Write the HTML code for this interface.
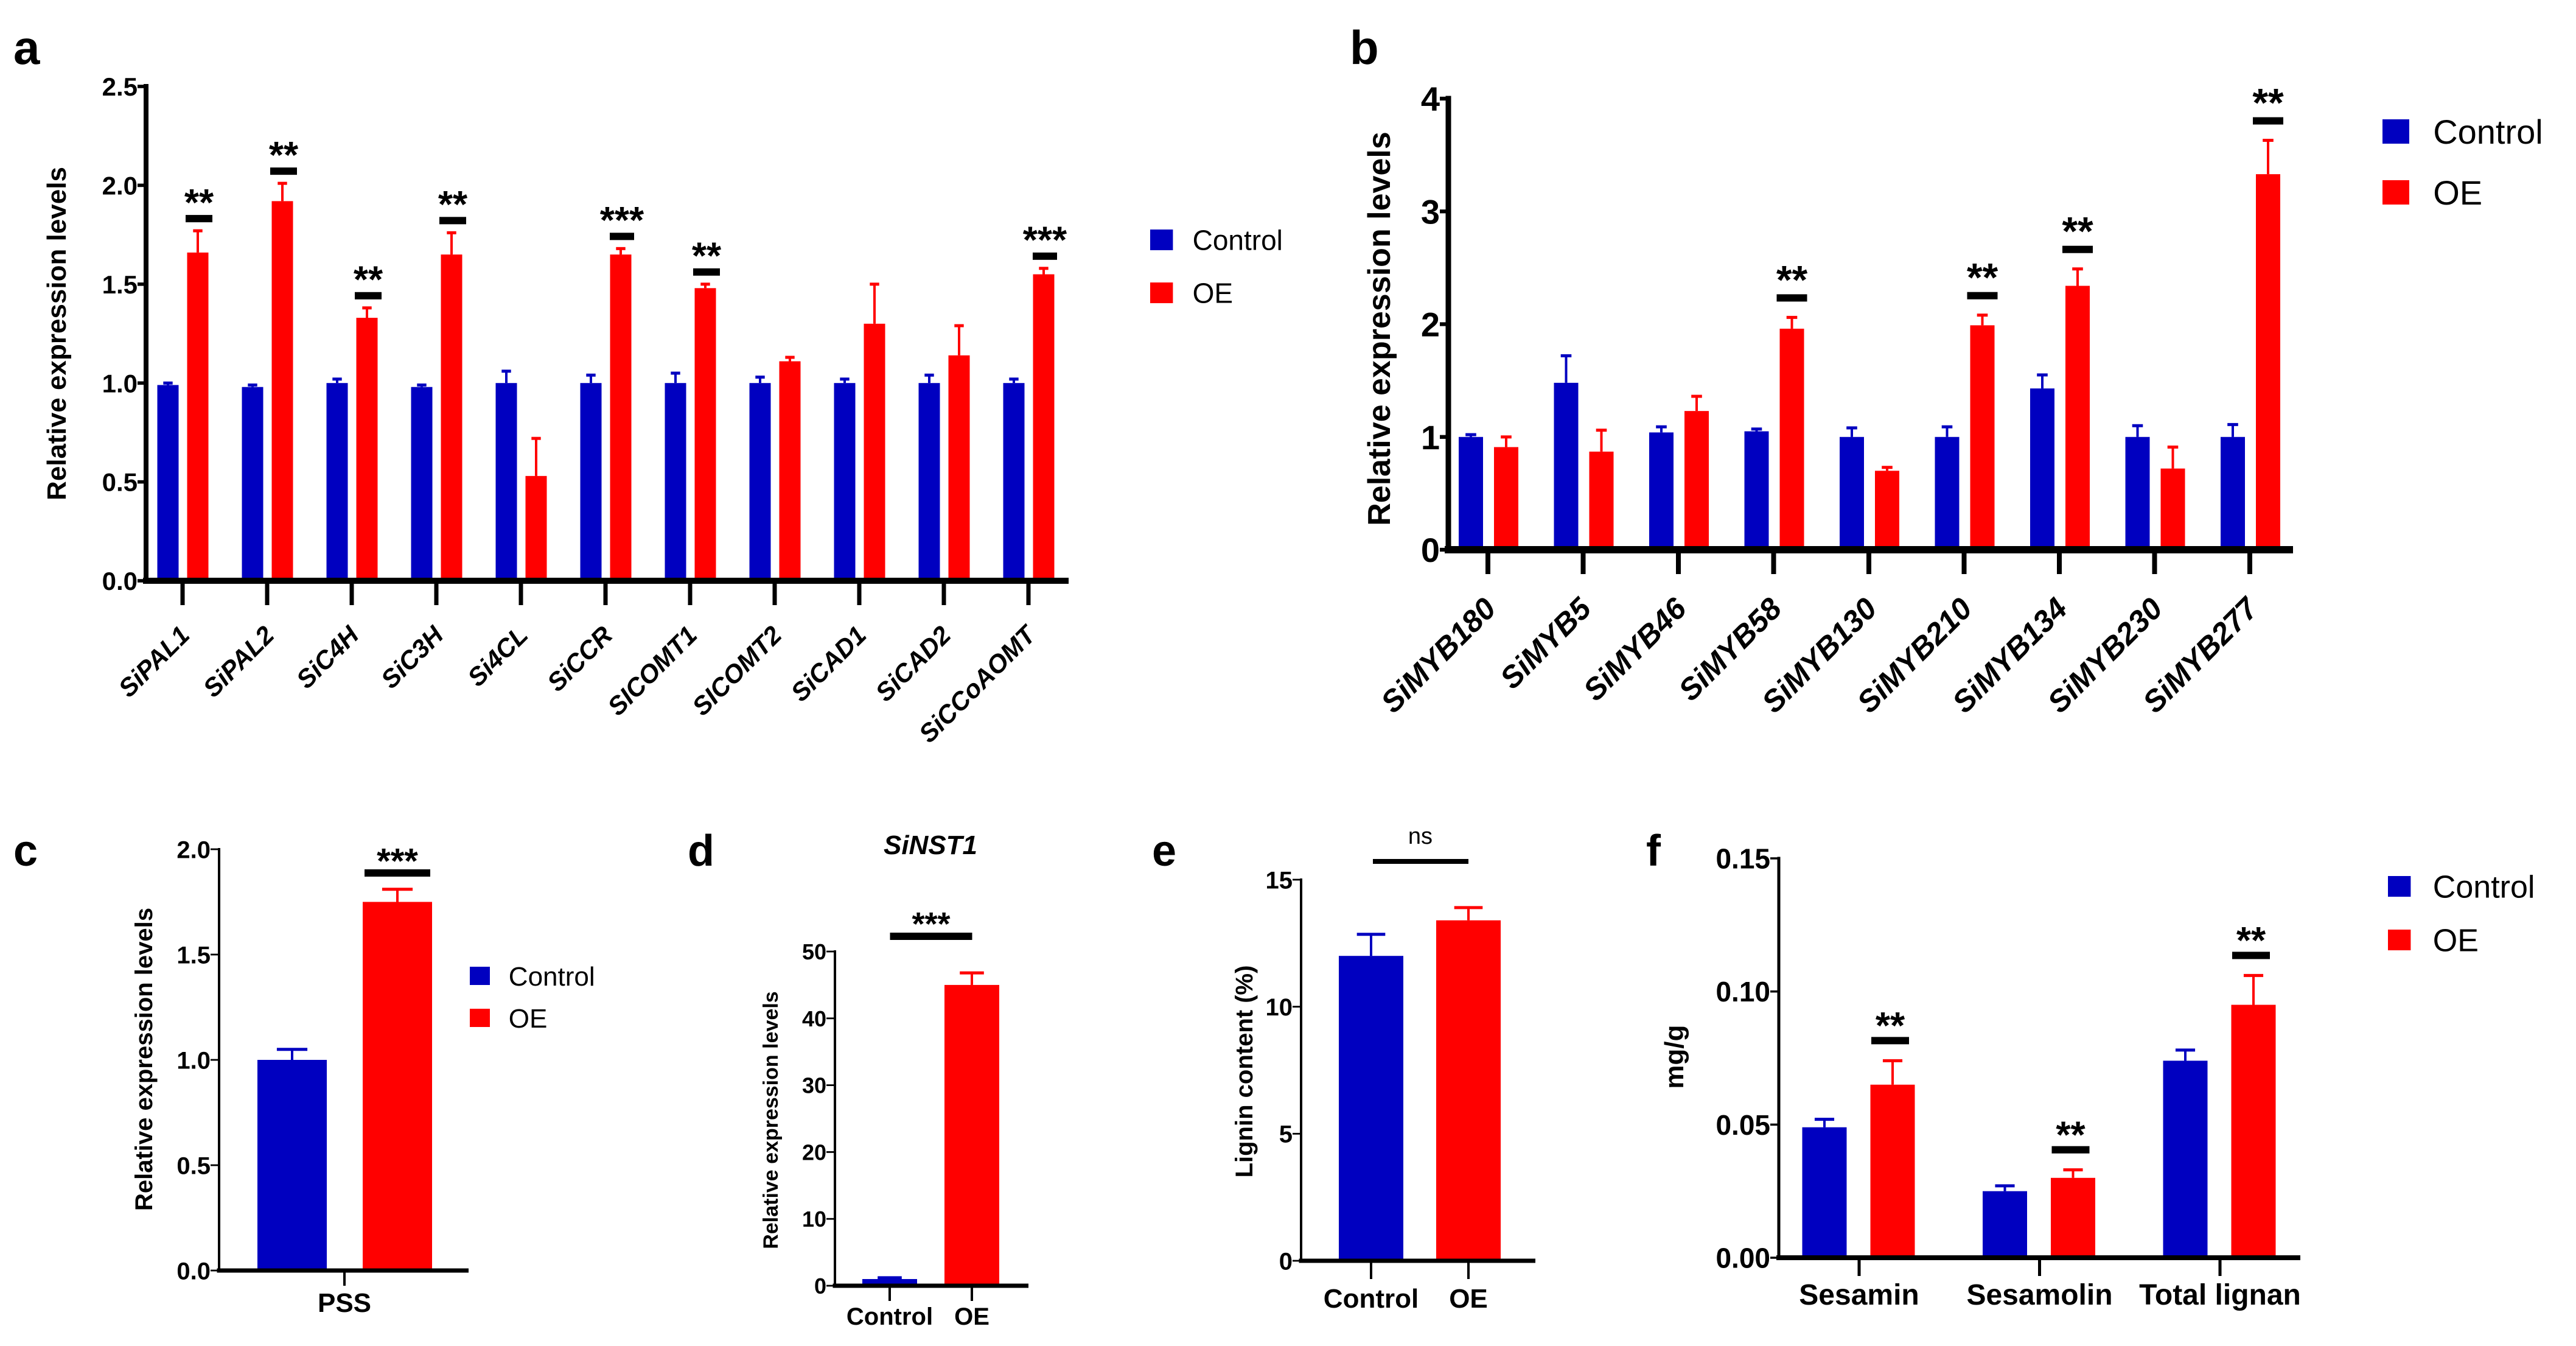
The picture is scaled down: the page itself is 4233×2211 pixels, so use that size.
<!DOCTYPE html>
<html><head><meta charset="utf-8">
<style>
html,body{margin:0;padding:0;background:#fff;}
svg{display:block;}
text{font-family:"Liberation Sans Narrow","Liberation Sans",sans-serif;}
.bold{font-family:"Liberation Sans",sans-serif;font-weight:bold;}
</style></head>
<body>
<svg id="fig" width="4233" height="2211" viewBox="0 0 4233 2211" xmlns="http://www.w3.org/2000/svg"></svg>
<script>
// ---------- data ----------
const aCats = ["SiPAL1","SiPAL2","SiC4H","SiC3H","Si4CL","SiCCR","SICOMT1","SICOMT2","SiCAD1","SiCAD2","SiCCoAOMT"];
const aCtrl = [0.99,0.98,1.0,0.98,1.0,1.0,1.0,1.0,1.0,1.0,1.0];
const aCtrlErr = [0.01,0.01,0.02,0.01,0.06,0.04,0.05,0.03,0.02,0.04,0.02];
const aOE = [1.66,1.92,1.33,1.65,0.53,1.65,1.48,1.11,1.30,1.14,1.55];
const aOEErr = [0.11,0.09,0.05,0.11,0.19,0.03,0.02,0.02,0.20,0.15,0.03];
const aSig = ["**","**","**","**","","***","**","","","","***"];
const aTicks = ["0.0","0.5","1.0","1.5","2.0","2.5"];

const bCats = ["SiMYB180","SiMYB5","SiMYB46","SiMYB58","SiMYB130","SiMYB210","SiMYB134","SiMYB230","SiMYB277"];
const bCtrl = [1.0,1.48,1.04,1.05,1.0,1.0,1.43,1.0,1.0];
const bCtrlErr = [0.02,0.24,0.05,0.02,0.08,0.09,0.12,0.10,0.11];
const bOE = [0.91,0.87,1.23,1.96,0.70,1.99,2.34,0.72,3.33];
const bOEErr = [0.09,0.19,0.13,0.10,0.03,0.09,0.15,0.19,0.30];
const bSig = ["","","","**","","**","**","","**"];
const bTicks = ["0","1","2","3","4"];

const cCats = ["PSS"];
const cCtrl = [1.0]; const cCtrlErr = [0.05];
const cOE = [1.75]; const cOEErr = [0.06];
const cTicks = ["0.0","0.5","1.0","1.5","2.0"];

const dCats = ["Control","OE"];
const dVals = [1.0,45.0]; const dErr = [0.2,1.8];
const dTicks = ["0","10","20","30","40","50"];

const eCats = ["Control","OE"];
const eVals = [12.0,13.4]; const eErr = [0.85,0.5];
const eTicks = ["0","5","10","15"];

const fCats = ["Sesamin","Sesamolin","Total lignan"];
const fCtrl = [0.049,0.025,0.074]; const fCtrlErr = [0.003,0.002,0.004];
const fOE = [0.065,0.030,0.095]; const fOEErr = [0.009,0.003,0.011];
const fSig = ["**","**","**"];
const fTicks = ["0.00","0.05","0.10","0.15"];

const BLUE="#0000c0", RED="#ff0000";
const NS="http://www.w3.org/2000/svg";
const svg=document.getElementById('fig');

function mk(tag, attrs, parent){
  const e=document.createElementNS(NS,tag);
  for(const k in attrs) e.setAttribute(k, attrs[k]);
  (parent||svg).appendChild(e);
  return e;
}
function txt(parent, s, x, y, size, opts){
  opts=opts||{};
  const t=mk('text',{x:x,y:y,'font-size':size,'text-anchor':opts.anchor||'start',fill:'#000'},parent);
  if(opts.cls) t.setAttribute('class',opts.cls);
  if(opts.italic) t.setAttribute('font-style','italic');
  if(opts.weight) t.setAttribute('font-weight',opts.weight);
  if(opts.rot!==undefined) t.setAttribute('transform','rotate('+opts.rot+' '+x+' '+y+')');
  t.textContent=s;
  return t;
}
function panel(name){
  const g=mk('g',{});
  
  
  return g;
}
function yAxis(g, ax, y0, y1, ticks, maxV, size, lw, name){
  const line=mk('line',{x1:ax,y1:y1-lw/2,x2:ax,y2:y0,stroke:'#000','stroke-width':lw},g);
  
  
  ticks.forEach((t,i)=>{
    const v=parseFloat(t);
    const y=y0-(y0-y1)*v/maxV;
    mk('line',{x1:ax-14,y1:y,x2:ax,y2:y,stroke:'#000','stroke-width':lw*0.7},g);
    const lab=txt(g,t,ax-14,y+size*0.36,size,{anchor:'end',weight:'bold'});
    
    
  });
}
function xAxis(g, ax, x2, y0, lw, name){
  const line=mk('line',{x1:ax-lw/2,y1:y0,x2:x2,y2:y0,stroke:'#000','stroke-width':lw},g);
  
  
}
function barErr(g, cx, w, y0, yv, yerr, color, lw, name){
  const r=mk('rect',{x:cx-w/2,y:Math.min(yv,y0),width:w,height:Math.abs(y0-yv),fill:color},g);
  
  
  mk('line',{x1:cx,y1:yv,x2:cx,y2:yerr,stroke:color,'stroke-width':lw},g);
  mk('line',{x1:cx-w*0.22,y1:yerr,x2:cx+w*0.22,y2:yerr,stroke:color,'stroke-width':lw+1},g);
}
function sig(g, cx, y, barW, s, size, name, gap){
  if(!s) return;
  gap=gap||42;
  const b=mk('rect',{x:cx-barW/2,y:y-6,width:barW,height:12,fill:'#000'},g);
  
  
  const t=txt(g,s,cx,y-gap+size*0.56,size,{anchor:'middle',cls:'bold'});
  
  
}
function legend(g, x, y1, y2, sq, size, name){
  const items=[["Control",BLUE,y1],["OE",RED,y2]];
  items.forEach(it=>{
    const r=mk('rect',{x:x,y:it[2]-sq/2,width:sq*1.1,height:sq,fill:it[1]},g);
    
    
    const t=txt(g,it[0],x+sq*1.1+size*0.7,it[2]+size*0.36,size);
    
    
  });
}
function letter(g, s, x, y, size, name){
  const t=txt(g,s,x,y,size,{cls:'bold'});
  
  
}

// ---------- panel a ----------
(function(){
  const g=panel('panel-a');
  const ax=240, y0=954, y1=142, maxV=2.5, x0=300, step=139;
  const sc=v=>y0-(y0-y1)*v/maxV;
  letter(g,'a',22,105,78,'panel-a-letter');
  aCats.forEach((c,i)=>{
    const cx=x0+i*step;
    barErr(g,cx-24,35,y0,sc(aCtrl[i]),sc(aCtrl[i]+aCtrlErr[i]),BLUE,4,'bar-a-control-'+c);
    barErr(g,cx+25,35,y0,sc(aOE[i]),sc(aOE[i]+aOEErr[i]),RED,4,'bar-a-oe-'+c);
    sig(g,cx+27,sc(aOE[i]+aOEErr[i])-20,aSig[i].length>2?40:44,aSig[i],62,'a-'+c,40);
    mk('line',{x1:cx,y1:y0,x2:cx,y2:y0+40,stroke:'#000','stroke-width':7},g);
    const t=txt(g,c,cx+14,y0+92,42,{anchor:'end',cls:'bold',italic:true,rot:-45});
    
    
  });
  xAxis(g,ax,1756,y0,10,'a');
  yAxis(g,ax,y0,y1,aTicks,maxV,42,8,'a');
  const yt=txt(g,'Relative expression levels',108,548,44,{anchor:'middle',cls:'bold',rot:-90});
  
  
  legend(g,1890,394,481,34,46,'a');
})();

// ---------- panel b ----------
(function(){
  const g=panel('panel-b');
  const ax=2380, y0=903, y1=162, maxV=4, x0=2445, step=156.5;
  const sc=v=>y0-(y0-y1)*v/maxV;
  letter(g,'b',2218,105,78,'panel-b-letter');
  bCats.forEach((c,i)=>{
    const cx=x0+i*step;
    barErr(g,cx-28,40,y0,sc(bCtrl[i]),sc(bCtrl[i]+bCtrlErr[i]),BLUE,4,'bar-b-control-'+c);
    barErr(g,cx+30,40,y0,sc(bOE[i]),sc(bOE[i]+bOEErr[i]),RED,4,'bar-b-oe-'+c);
    sig(g,cx+30,sc(bOE[i]+bOEErr[i])-32,50,bSig[i],66,'b-'+c,44);
    mk('line',{x1:cx,y1:y0,x2:cx,y2:y0+40,stroke:'#000','stroke-width':8},g);
    const t=txt(g,c,cx+16,y0+100,50,{anchor:'end',cls:'bold',italic:true,rot:-45});
    
    
  });
  xAxis(g,ax,3768,y0,12,'b');
  yAxis(g,ax,y0,y1,bTicks,maxV,56,9,'b');
  const yt=txt(g,'Relative expression levels',2284,540,52,{anchor:'middle',cls:'bold',rot:-90});
  
  
  legend(g,3915,216,316,40,56,'b');
})();

// ---------- panel c ----------
(function(){
  const g=panel('panel-c');
  const ax=360, y0=2087, y1=1395, maxV=2.0;
  const sc=v=>y0-(y0-y1)*v/maxV;
  letter(g,'c',22,1422,72,'panel-c-letter');
  const cx=566;
  barErr(g,480,114,y0,sc(cCtrl[0]),sc(cCtrl[0]+cCtrlErr[0]),BLUE,4,'bar-c-control');
  barErr(g,653,114,y0,sc(cOE[0]),sc(cOE[0]+cOEErr[0]),RED,4,'bar-c-oe');
  sig(g,653,1434,108,'***',58,'c',32);
  mk('line',{x1:cx,y1:y0,x2:cx,y2:y0+25,stroke:'#000','stroke-width':4},g);
  const t=txt(g,cCats[0],cx,2155,44,{anchor:'middle',weight:'bold'});
  
  
  xAxis(g,ax,770,y0,7,'c');
  yAxis(g,ax,y0,y1,cTicks,maxV,40,4,'c');
  const yt=txt(g,'Relative expression levels',250,1740,40,{anchor:'middle',cls:'bold',rot:-90});
  
  
  legend(g,772,1603,1672,30,44,'c');
})();

// ---------- panel d ----------
(function(){
  const g=panel('panel-d');
  const ax=1372, y0=2112, y1=1563, maxV=50;
  const sc=v=>y0-(y0-y1)*v/maxV;
  letter(g,'d',1130,1422,72,'panel-d-letter');
  const xs=[1462,1597], cols=[BLUE,RED];
  dCats.forEach((c,i)=>{
    const cx=xs[i];
    barErr(g,cx,90,y0,sc(dVals[i]),sc(dVals[i]+dErr[i]),cols[i],4,'bar-d-'+c);
    mk('line',{x1:cx,y1:y0,x2:cx,y2:y0+25,stroke:'#000','stroke-width':4},g);
    const t=txt(g,c,cx,2176,40,{anchor:'middle',weight:'bold'});
    
    
  });
  sig(g,1530,1538,135,'***',54,'d',32);
  xAxis(g,ax,1690,y0,7,'d');
  yAxis(g,ax,y0,y1,dTicks,maxV,36,4,'d');
  const ttl=txt(g,'SiNST1',1529,1403,44,{anchor:'middle',cls:'bold',italic:true});
  
  
  const yt=txt(g,'Relative expression levels',1278,1840,34,{anchor:'middle',cls:'bold',rot:-90});
  
  
})();

// ---------- panel e ----------
(function(){
  const g=panel('panel-e');
  const ax=2138, y0=2071, y1=1445, maxV=15;
  const sc=v=>y0-(y0-y1)*v/maxV;
  letter(g,'e',1893,1422,72,'panel-e-letter');
  const xs=[2253,2413], cols=[BLUE,RED];
  eCats.forEach((c,i)=>{
    const cx=xs[i];
    barErr(g,cx,106,y0,sc(eVals[i]),sc(eVals[i]+eErr[i]),cols[i],4,'bar-e-'+c);
    mk('line',{x1:cx,y1:y0,x2:cx,y2:y0+30,stroke:'#000','stroke-width':4},g);
    const t=txt(g,c,cx,2148,44,{anchor:'middle',weight:'bold'});
    
    
  });
  const nb=mk('rect',{x:2256,y:1411,width:157,height:8,fill:'#000'},g);
  
  
  const ns=txt(g,'ns',2334,1386,38,{anchor:'middle'});
  
  
  xAxis(g,ax,2523,y0,7,'e');
  yAxis(g,ax,y0,y1,eTicks,maxV,40,4,'e');
  const yt=txt(g,'Lignin content (%)',2058,1760,40,{anchor:'middle',cls:'bold',rot:-90});
  
  
})();

// ---------- panel f ----------
(function(){
  const g=panel('panel-f');
  const ax=2923, y0=2066, y1=1410, maxV=0.15, x0=3055, step=296.5;
  const sc=v=>y0-(y0-y1)*v/maxV;
  letter(g,'f',2705,1422,72,'panel-f-letter');
  fCats.forEach((c,i)=>{
    const cx=x0+i*step;
    barErr(g,cx-57,73,y0,sc(fCtrl[i]),sc(fCtrl[i]+fCtrlErr[i]),BLUE,4,'bar-f-control-'+c);
    barErr(g,cx+55,73,y0,sc(fOE[i]),sc(fOE[i]+fOEErr[i]),RED,4,'bar-f-oe-'+c);
    sig(g,cx+51,sc(fOE[i]+fOEErr[i])-33,62,fSig[i],62,'f-'+c,38);
    mk('line',{x1:cx,y1:y0,x2:cx,y2:y0+30,stroke:'#000','stroke-width':5},g);
    const t=txt(g,c,cx,2143,48,{anchor:'middle',weight:'bold'});
    
    
  });
  xAxis(g,ax,3780,y0,8,'f');
  yAxis(g,ax,y0,y1,fTicks,maxV,46,5,'f');
  const yt=txt(g,'mg/g',2766,1736,44,{anchor:'middle',cls:'bold',rot:-90});
  
  
  legend(g,3924,1456,1544,34,52,'f');
})();
</script>
</body></html>
